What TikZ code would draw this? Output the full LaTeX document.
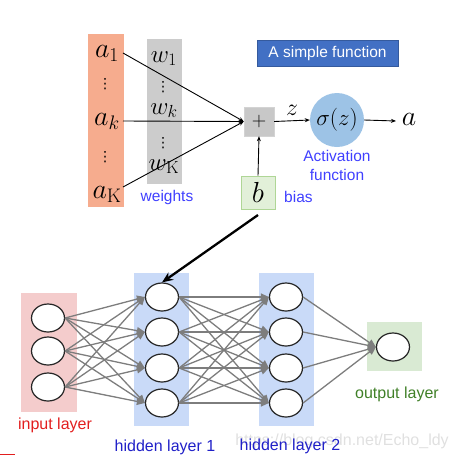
\RequirePackage{fix-cm}
\documentclass[tikz,border=0pt]{standalone}
\usepackage{fontspec}
\newfontfamily\lab{Liberation Sans}
\newfontfamily\dvs{DejaVu Sans}
\usetikzlibrary{arrows.meta,shapes.geometric}
\definecolor{orng}{RGB}{246,172,142}
\definecolor{wgray}{RGB}{204,204,204}
\definecolor{pgray}{RGB}{200,200,200}
\definecolor{bfill}{RGB}{226,240,217}
\definecolor{bdraw}{RGB}{175,214,150}
\definecolor{titleblue}{RGB}{66,112,196}
\definecolor{circblue}{RGB}{157,195,230}
\definecolor{labblue}{RGB}{64,64,255}
\definecolor{inred}{RGB}{244,204,204}
\definecolor{hidblue}{RGB}{201,218,248}
\definecolor{outgreen}{RGB}{217,234,211}
\definecolor{redtxt}{RGB}{226,30,30}
\definecolor{darkblue}{RGB}{32,32,200}
\definecolor{greentxt}{RGB}{64,128,40}
\definecolor{edgegray}{RGB}{125,125,125}
\begin{document}
\begin{tikzpicture}[x=1pt,y=-1pt,
  mathlbl/.style={inner sep=0pt,anchor=base,font=\fontsize{28}{30}\selectfont},
  wlbl/.style={inner sep=0pt,anchor=base,font=\fontsize{25}{27}\selectfont},
  dotlbl/.style={inner sep=0pt,font=\dvs\fontsize{14}{14}\selectfont},
  bluelbl/.style={inner sep=0pt,text=labblue,font=\lab\fontsize{15.5}{19}\selectfont,align=center},
  neuron/.style={draw=black!85,line width=1.2pt,fill=white,ellipse,minimum width=33pt,minimum height=28pt,inner sep=0pt},
  nnedge/.style={draw=edgegray,line width=1.3pt,-{Triangle[length=8pt,width=7pt]}},
  thinarr/.style={draw=black,line width=0.9pt,-{Stealth[length=5pt,width=4pt]}},
  layerlbl/.style={inner sep=0pt,font=\lab\fontsize{16}{19}\selectfont}
]
\useasboundingbox (0,0) rectangle (457,459);
% ---------- top part ----------
\fill[orng] (88,34) rectangle (124,207);
\fill[wgray] (147,39) rectangle (182,184);
\node[mathlbl] (a1) at (107,57) {$a_1$};
\node[dotlbl] (d1) at (105,84) {⋮};
\node[mathlbl] (ak) at (107,125) {$a_k$};
\node[dotlbl] (d2) at (105,157) {⋮};
\node[mathlbl] (aK) at (107,198) {$a_{\mathrm{K}}$};
\node[wlbl] (w1) at (164,62) {$w_1$};
\node[dotlbl] (d3) at (163,87) {⋮};
\node[wlbl] (wk) at (164,114) {$w_k$};
\node[dotlbl] (d4) at (163,143) {⋮};
\node[wlbl] (wK) at (164,170) {$w_{\mathrm{K}}$};
\node[bluelbl] (weights) at (167,197) {weights};
\coordinate (a1e) at (123,53);
\coordinate (ake) at (123,121);
\coordinate (aKe) at (123,187);
\node[fill=pgray,draw=pgray!80,minimum width=30pt,minimum height=29pt,inner sep=0pt,font=\fontsize{20}{22}\selectfont] (plus) at (259,121.5) {$+$};
\draw[thinarr] (a1e) -- (plus.west);
\draw[thinarr] (ake) -- (plus.west);
\draw[thinarr] (aKe) -- (plus.west);
\node[fill=bfill,draw=bdraw,line width=0.6pt,minimum width=34pt,minimum height=33pt,inner sep=0pt,font=\fontsize{29}{31}\selectfont] (b) at (258,192.5) {$b$};
\draw[thinarr] (b.north) -- (plus.south);
\node[bluelbl,anchor=west] (bias) at (284,197) {bias};
\node[fill=titleblue,draw=titleblue!80!black,line width=0.5pt,minimum width=141pt,minimum height=26pt,inner sep=0pt,text=white,font=\lab\fontsize{15.5}{19}\selectfont] (title) at (327.5,53) {A simple function};
\node[circle,fill=circblue,minimum size=54pt,inner sep=0pt,font=\fontsize{23}{25}\selectfont] (sig) at (337,120) {$\sigma(z)$};
\draw[thinarr] (plus.east) -- (sig.west);
\node[inner sep=0pt,anchor=base,font=\fontsize{24}{26}\selectfont] (zl) at (292,115) {$z$};
\node[mathlbl] (outa) at (409,125) {$a$};
\coordinate (aw) at (396,121);
\draw[thinarr] (sig.east) -- (aw);
\node[bluelbl] (act) at (337,165) {Activation\\function};
% ---------- bottom part ----------
\fill[inred] (21,293) rectangle (77,412);
\fill[hidblue] (134,273) rectangle (189,426);
\fill[hidblue] (259,273) rectangle (314,426);
\fill[outgreen] (367,322) rectangle (422,371);
\node[neuron] (i1) at (48,318) {};
\node[neuron] (i2) at (48,351) {};
\node[neuron] (i3) at (48,387) {};
\foreach \n/\y in {1/297,2/332,3/368,4/403}{
  \node[neuron] (h\n) at (162,\y) {};
  \node[neuron] (g\n) at (286,\y) {};
}
\node[neuron] (o) at (393,347) {};
\foreach \s in {1,2,3}{\foreach \t in {1,2,3,4}{\draw[nnedge] (i\s.east) -- (h\t.west);}}
\foreach \s in {1,2,3,4}{\foreach \t in {1,2,3,4}{\draw[nnedge] (h\s.east) -- (g\t.west);}}
\foreach \s in {1,2,3,4}{\draw[nnedge] (g\s.east) -- (o.west);}
\node[layerlbl,text=redtxt] (inl) at (55,425) {input layer};
\node[layerlbl,text=darkblue] (h1l) at (165,447) {hidden layer 1};
\node[layerlbl,text=greentxt] (outl) at (397,394) {output layer};
\node[layerlbl,text=black!12] (wm) at (342,441) {https://blog.csdn.net/Echo\_ldy};
\node[layerlbl,text=darkblue] (h2l) at (290,446) {hidden layer 2};
\coordinate (bstart) at (258,215);
\draw[line width=2.3pt,-{Stealth[length=11pt,width=9pt]}] (bstart) -- (h1.north);
\draw[redtxt,line width=0.8pt] (0,454) -- (15,454);
\end{tikzpicture}
\end{document}
